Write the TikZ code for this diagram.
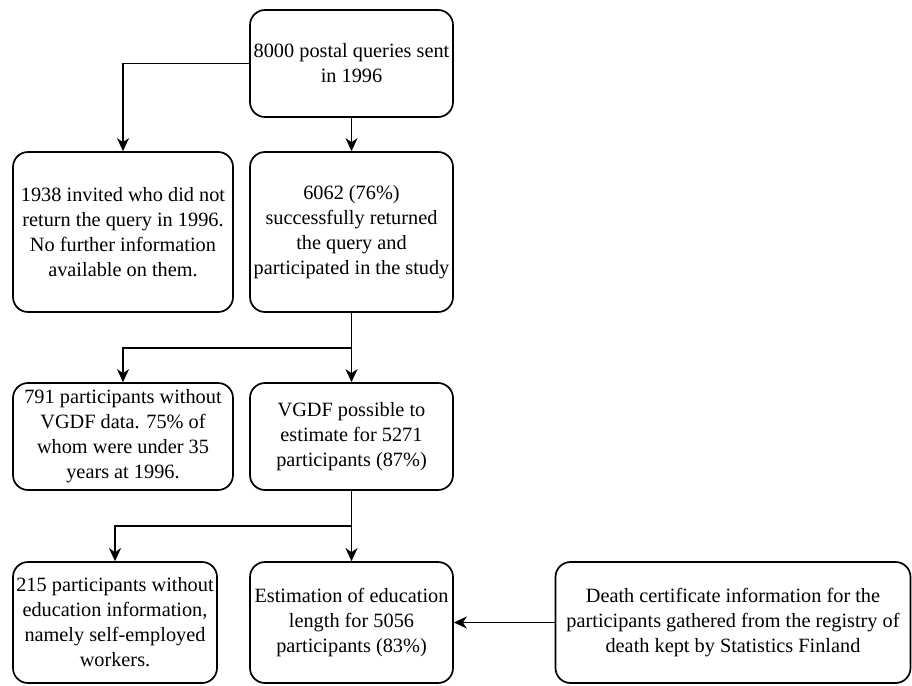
\documentclass[tikz,border=0pt]{standalone}
\usepackage{fontspec}
\setmainfont{Liberation Serif}
\newfontfamily\boxfont{Liberation Serif}
\usetikzlibrary{arrows.meta}
\tikzset{
  flowbox/.style={draw=black, line width=1.7pt, rounded corners=15pt, align=center, inner sep=0pt,
    font=\boxfont\fontsize{20.3}{25}\selectfont},
  flowarr/.style={line width=1.7pt, -{Stealth[length=13pt,width=12pt,inset=4pt]}},
  flowline/.style={line width=1.7pt}
}
\begin{document}
\begin{tikzpicture}[x=1pt,y=-1pt]
\useasboundingbox (0,0) rectangle (912,685);
\node[flowbox, minimum width=203pt, minimum height=107pt] (A) at (351.5,63.5) {8000 postal queries sent\\in 1996};
\node[flowbox, minimum width=220pt, minimum height=160pt] (B) at (123,232) {1938 invited who did not\\return the query in 1996.\\No further information\\available on them.};
\node[flowbox, minimum width=203pt, minimum height=160pt] (C) at (351.5,232) {6062 (76\%)\\successfully returned\\the query and\\participated in the study};
\node[flowbox, minimum width=220pt, minimum height=107pt] (D) at (123,436.5) {791 participants without\\VGDF data. 75\% of\\whom were under 35\\years at 1996.};
\node[flowbox, minimum width=203pt, minimum height=107pt] (E) at (351.5,436.5) {VGDF possible to\\estimate for 5271\\participants (87\%)};
\node[flowbox, minimum width=204pt, minimum height=121pt] (F) at (115,622.5) {215 participants without\\education information,\\namely self-employed\\workers.};
\node[flowbox, minimum width=203pt, minimum height=121pt] (G) at (351.5,622.5) {Estimation of education\\length for 5056\\participants (83\%)};
\node[flowbox, minimum width=355pt, minimum height=121pt] (H) at (733,622.5) {Death certificate information for the\\participants gathered from the registry of\\death kept by Statistics Finland};
\coordinate (j1) at (351.5,348);
\coordinate (j2) at (351.5,526);
\draw[flowarr] (A.west) -| (B.north);
\draw[flowarr] (A.south) -- (C.north);
\draw[flowline] (C.south) -- (j1);
\draw[flowarr] (j1) -| (D.north);
\draw[flowarr] (j1) -- (E.north);
\draw[flowline] (E.south) -- (j2);
\draw[flowarr] (j2) -| (F.north);
\draw[flowarr] (j2) -- (G.north);
\draw[flowarr] (H.west) -- (G.east);
\end{tikzpicture}
\end{document}
